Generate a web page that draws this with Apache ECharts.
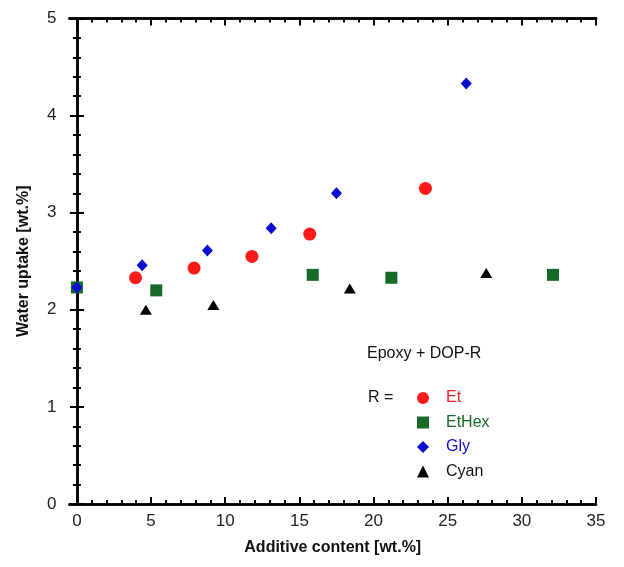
<!DOCTYPE html>
<html>
<head>
<meta charset="utf-8">
<script src="https://cdn.jsdelivr.net/npm/echarts@6/dist/echarts.min.js"></script>
<style>
  html, body { margin: 0; padding: 0; background: #fff; }
  #chart { width: 624px; height: 567px; }
</style>
</head>
<body>
<div id="chart"></div>
<script>
// data: [additive content wt.%, water uptake wt.%]
var etData    = [[3.95, 2.33], [7.9, 2.43], [11.8, 2.55], [15.7, 2.78], [23.5, 3.25]];
var etHexData = [[0, 2.23], [5.35, 2.20], [15.9, 2.36], [21.2, 2.33], [32.1, 2.36]];
var glyData   = [[0, 2.23], [4.4, 2.46], [8.8, 2.61], [13.1, 2.84], [17.5, 3.20], [26.25, 4.33]];
var cyanData  = [[4.65, 2.0], [9.2, 2.05], [18.4, 2.22], [27.6, 2.38]];

var xMajor = [0, 5, 10, 15, 20, 25, 30, 35];
var xMinor = [];
for (var i = 1; i < 35; i++) { if (i % 5 !== 0) xMinor.push(i); }

(function(){
    var myChart = echarts.init(document.getElementById('chart'));
    var font = 'Liberation Sans, Arial, sans-serif';
    var line = { show: true, lineStyle: { color: '#000', width: 2.5 } };

    // x axes: major + minor, bottom + top (mirrored ticks)
    function xAx(pos, ticks, len, labels, name) {
        return {
            type: 'value', position: pos, min: -0.5, max: 35,
            name: name || '', nameLocation: 'middle', nameGap: 36,
            nameTextStyle: { fontFamily: font, fontSize: 16, fontWeight: 'bold', color: '#111' },
            axisLine: line,
            axisTick: { show: true, inside: true, length: len, customValues: ticks,
                        lineStyle: { color: '#000', width: 2 } },
            axisLabel: { show: labels, customValues: ticks, margin: 9,
                         fontFamily: font, fontSize: 17, color: '#222' },
            splitLine: { show: false }
        };
    }
    function yAx(pos, labels, name) {
        return {
            type: 'value', position: pos, min: 0, max: 5, interval: 1,
            name: name || '', nameLocation: 'middle', nameGap: 38,
            nameTextStyle: { fontFamily: font, fontSize: 16, fontWeight: 'bold', color: '#111' },
            axisLine: line,
            axisTick: { show: true, inside: true, length: 7, lineStyle: { color: '#000', width: 2 } },
            minorTick: { show: true, splitNumber: 5, length: 4, lineStyle: { color: '#000', width: 2 } },
            axisLabel: { show: labels, margin: 13, fontFamily: font, fontSize: 17, color: '#222' },
            splitLine: { show: false }
        };
    }

    var option = {
        backgroundColor: '#fff',
        animation: false,
        grid: { left: 69.5, right: 28, top: 18.5, bottom: 63 },
        xAxis: [
            xAx('bottom', xMajor, 7, true, 'Additive content [wt.%]'),
            xAx('bottom', xMinor, 4, false),
            xAx('top', xMajor, 7, false),
            xAx('top', xMinor, 4, false)
        ],
        yAxis: [
            yAx('left', true, 'Water uptake [wt.%]'),
            yAx('right', false)
        ],
        legend: {
            orient: 'vertical', left: 412, top: 384,
            itemWidth: 12, itemHeight: 12, itemGap: 6.5,
            textStyle: { fontFamily: font, fontSize: 16, lineHeight: 18, padding: [0, 0, 0, 12] },
            data: [
                { name: 'Et', icon: 'circle', textStyle: { color: '#ee1c24' } },
                { name: 'EtHex', icon: 'rect', textStyle: { color: '#17692a' } },
                { name: 'Gly', icon: 'diamond', textStyle: { color: '#1010c8' } },
                { name: 'Cyan', icon: 'triangle', textStyle: { color: '#111' } }
            ]
        },
        graphic: [
            { type: 'text', left: 367, top: 346,
              style: { text: 'Epoxy + DOP-R', font: '16px ' + font, fill: '#111' } },
            { type: 'text', left: 368, top: 390,
              style: { text: 'R =', font: '16px ' + font, fill: '#111' } }
        ],
        series: [
            { name: 'EtHex', type: 'scatter', data: etHexData, symbol: 'rect', symbolSize: 12,
              itemStyle: { color: '#17692a', opacity: 1 } },
            { name: 'Et', type: 'scatter', data: etData, symbol: 'circle', symbolSize: 13,
              itemStyle: { color: '#ff1a1a', opacity: 1 } },
            { name: 'Gly', type: 'scatter', data: glyData, symbol: 'diamond', symbolSize: [11, 12],
              itemStyle: { color: '#0a0ad0', opacity: 1 } },
            { name: 'Cyan', type: 'scatter', data: cyanData, symbol: 'triangle', symbolSize: [12, 10],
              itemStyle: { color: '#000', opacity: 1 } }
        ]
    };
    myChart.setOption(option);
})();
</script>
</body>
</html>
